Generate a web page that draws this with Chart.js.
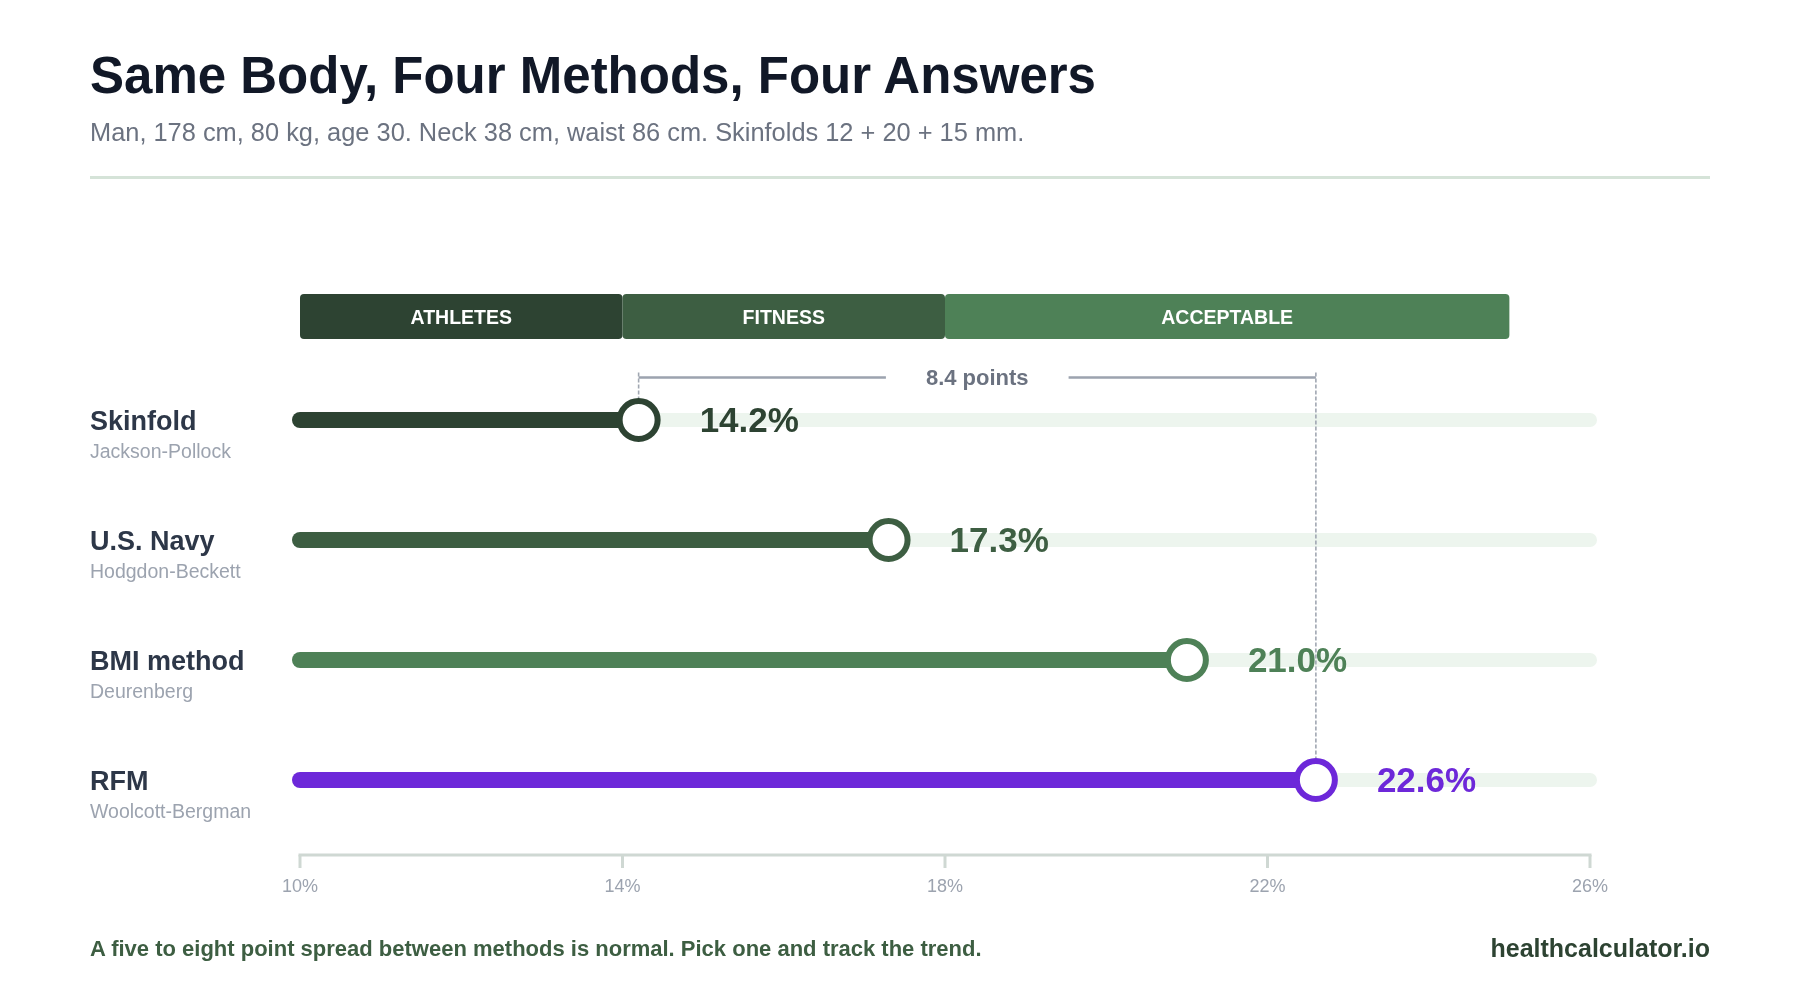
<!DOCTYPE html>
<html>
<head>
<meta charset="utf-8">
<script src="https://cdn.jsdelivr.net/npm/chart.js@4.4.1/dist/chart.umd.min.js"></script>
<style>
  html, body { margin:0; padding:0; background:#ffffff; }
  body { width:1800px; height:990px; position:relative; overflow:hidden; font-family:'Liberation Sans', Arial, Helvetica, sans-serif; }
  #c { position:absolute; left:0; top:0; width:1800px; height:990px; }
  .t { position:absolute; white-space:nowrap; margin:0; }
  #title { left:90px; top:50px; font-size:51px; line-height:51px; font-weight:bold; color:#111827; }
  #subtitle { left:90px; top:119.5px; font-size:25.4px; line-height:25.4px; color:#6b7280; }
  #rule { position:absolute; left:90px; top:175.5px; width:1620px; height:3px; background:#d5e3d8; }
  #note { left:90px; top:938px; font-size:22px; line-height:22px; font-weight:bold; color:#3d5e42; }
  #brand { right:90px; top:936px; font-size:25px; line-height:25px; font-weight:bold; color:#2d4332; }
</style>
</head>
<body>
<canvas id="c" width="1800" height="990"></canvas>
<h1 class="t" id="title">Same Body, Four Methods, Four Answers</h1>
<div class="t" id="subtitle">Man, 178 cm, 80 kg, age 30. Neck 38 cm, waist 86 cm. Skinfolds 12 + 20 + 15 mm.</div>
<div id="rule"></div>
<div class="t" id="note">A five to eight point spread between methods is normal. Pick one and track the trend.</div>
<div class="t" id="brand">healthcalculator.io</div>
<script>
// ---- data ----
const methods = ['Skinfold', 'U.S. Navy', 'BMI method', 'RFM'];
const formulas = ['Jackson-Pollock', 'Hodgdon-Beckett', 'Deurenberg', 'Woolcott-Bergman'];
const bodyFat = [14.2, 17.3, 21.0, 22.6];
const methodColors = ['#2d4332', '#3d5e42', '#4e8157', '#6d28d9'];
const bandLabels = ['ATHLETES', 'FITNESS', 'ACCEPTABLE'];
const bandStart = [10, 14, 18];
const bandEnd = [14, 18, 25];
const bandColors = ['#2d4332', '#3d5e42', '#4e8157'];
const axisMin = 10;
const axisMax = 26;
const axisStep = 4;

const FONT = "'Liberation Sans', Arial, Helvetica, sans-serif";
Chart.defaults.font.family = FONT;

const lowIdx = bodyFat.indexOf(Math.min(...bodyFat));
const highIdx = bodyFat.indexOf(Math.max(...bodyFat));
const spreadText = (bodyFat[highIdx] - bodyFat[lowIdx]).toFixed(1) + ' points';

const overlay = {
  id: 'overlay',
  beforeDatasetsDraw(chart) {
    const { ctx, chartArea, scales: { x } } = chart;
    ctx.save();
    // category bands
    const bTop = chartArea.top - 66, bH = 45;
    bandLabels.forEach((lab, i) => {
      const x0 = x.getPixelForValue(bandStart[i]);
      const x1 = x.getPixelForValue(bandEnd[i]);
      ctx.fillStyle = bandColors[i];
      ctx.beginPath();
      ctx.roundRect(x0, bTop, x1 - x0, bH, 4);
      ctx.fill();
      ctx.fillStyle = '#ffffff';
      ctx.font = 'bold 19.5px ' + FONT;
      ctx.textAlign = 'center';
      ctx.textBaseline = 'alphabetic';
      ctx.fillText(lab, (x0 + x1) / 2, bTop + bH / 2 + 7);
    });
    // axis line + ticks
    const ay = chartArea.bottom + 15;
    ctx.strokeStyle = '#cfd8d3';
    ctx.lineWidth = 3;
    ctx.beginPath();
    ctx.moveTo(x.getPixelForValue(axisMin) - 1.5, ay);
    ctx.lineTo(x.getPixelForValue(axisMax) + 1.5, ay);
    ctx.stroke();
    x.ticks.forEach(t => {
      const px = x.getPixelForValue(t.value);
      ctx.beginPath();
      ctx.moveTo(px, ay);
      ctx.lineTo(px, ay + 13);
      ctx.stroke();
    });
    ctx.restore();
  },
  afterDatasetsDraw(chart) {
    const { ctx, scales: { x, y } } = chart;
    ctx.save();
    methods.forEach((m, i) => {
      const ry = y.getPixelForValue(i);
      // row labels
      ctx.textAlign = 'left';
      ctx.textBaseline = 'alphabetic';
      ctx.fillStyle = '#2d3748';
      ctx.font = 'bold 27px ' + FONT;
      ctx.fillText(m, 90, ry + 10);
      ctx.fillStyle = '#9ca3af';
      ctx.font = '19.5px ' + FONT;
      ctx.fillText(formulas[i], 90, ry + 38);
      // value labels
      ctx.fillStyle = methodColors[i];
      ctx.font = 'bold 35px ' + FONT;
      ctx.fillText(bodyFat[i].toFixed(1) + '%', x.getPixelForValue(bodyFat[i]) + 61, ry + 12);
    });
    // spread bracket
    const xl = x.getPixelForValue(bodyFat[lowIdx]);
    const xh = x.getPixelForValue(bodyFat[highIdx]);
    const by = y.getPixelForValue(0) - 42.5;
    const mid = (xl + xh) / 2;
    ctx.font = 'bold 22px ' + FONT;
    const tw = ctx.measureText(spreadText).width;
    const gap = tw / 2 + 40;
    ctx.strokeStyle = '#9ca3af';
    ctx.lineWidth = 2.5;
    ctx.beginPath();
    ctx.moveTo(xl, by); ctx.lineTo(mid - gap, by);
    ctx.moveTo(mid + gap, by); ctx.lineTo(xh, by);
    ctx.stroke();
    ctx.fillStyle = '#6b7280';
    ctx.textAlign = 'center';
    ctx.fillText(spreadText, mid, by + 7.5);
    // dashed drop lines
    ctx.setLineDash([4, 2]);
    ctx.lineWidth = 1.6;
    ctx.strokeStyle = '#a1a7b2';
    ctx.beginPath();
    ctx.moveTo(xl, by - 5); ctx.lineTo(xl, y.getPixelForValue(lowIdx) - 22);
    ctx.moveTo(xh, by - 5); ctx.lineTo(xh, y.getPixelForValue(highIdx) - 22);
    ctx.stroke();
    ctx.restore();
  }
};

// tracks (full range) and value bars, drawn as round-capped lines
const trackSets = methods.map(m => ({
  type: 'line',
  data: [{ x: axisMin, y: m }, { x: axisMax, y: m }],
  borderColor: '#edf5ee',
  borderWidth: 14,
  borderCapStyle: 'round',
  pointRadius: 0,
  pointHoverRadius: 0,
  clip: false,
  order: 2
}));
const barSets = methods.map((m, i) => ({
  type: 'line',
  data: [{ x: axisMin, y: m }, { x: bodyFat[i], y: m }],
  borderColor: methodColors[i],
  borderWidth: 16,
  borderCapStyle: 'round',
  pointRadius: 0,
  pointHoverRadius: 0,
  clip: false,
  order: 1
}));
const pointSet = {
  type: 'line',
  data: methods.map((m, i) => ({ x: bodyFat[i], y: m })),
  showLine: false,
  pointRadius: 19,
  pointHoverRadius: 19,
  pointBorderWidth: 6,
  pointHoverBorderWidth: 6,
  pointBackgroundColor: '#ffffff',
  pointBorderColor: methodColors,
  clip: false,
  order: 0
};

new Chart(document.getElementById('c'), {
  type: 'line',
  data: {
    labels: methods,
    datasets: [pointSet, ...barSets, ...trackSets]
  },
  options: {
    responsive: false,
    animation: false,
    events: [],
    layout: { padding: { left: 300, right: 210, top: 360, bottom: 0 } },
    plugins: { legend: { display: false }, tooltip: { enabled: false }, title: { display: false } },
    scales: {
      x: {
        type: 'linear',
        min: axisMin,
        max: axisMax,
        grid: { display: false, drawTicks: false },
        border: { display: false },
        ticks: {
          stepSize: axisStep,
          padding: 36,
          color: '#9ca3af',
          font: { size: 18 },
          callback: v => v + '%'
        },
        afterFit: s => { s.height = 150; }
      },
      y: {
        type: 'category',
        labels: methods,
        display: false,
        offset: true
      }
    }
  },
  plugins: [overlay]
});
</script>
</body>
</html>
